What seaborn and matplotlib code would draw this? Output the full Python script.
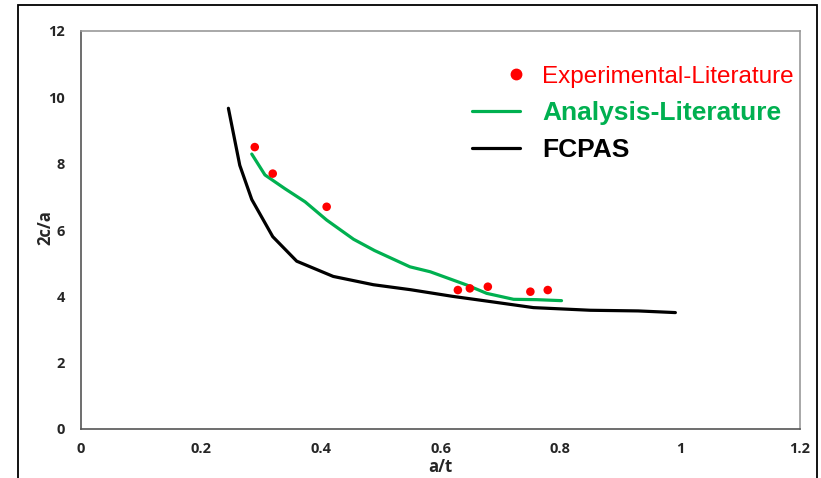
import numpy as np
import pandas as pd
import matplotlib
matplotlib.use("Agg")
import matplotlib.pyplot as plt
import seaborn as sns
from matplotlib.lines import Line2D
from matplotlib.patches import Rectangle
from matplotlib.legend_handler import HandlerLine2D

# FCPAS result
fcpas_x = [0.246, 0.265, 0.285, 0.32, 0.36, 0.421, 0.488, 0.55, 0.62, 0.68, 0.755, 0.85, 0.93, 0.992]
fcpas_y = [9.67, 7.95, 6.92, 5.8, 5.06, 4.6, 4.35, 4.2, 4.0, 3.85, 3.66, 3.58, 3.56, 3.51]

# analysis from literature
ana_x = [0.285, 0.307, 0.34, 0.374, 0.41, 0.455, 0.49, 0.549, 0.583, 0.644, 0.677, 0.722, 0.76, 0.802]
ana_y = [8.29, 7.66, 7.25, 6.85, 6.3, 5.72, 5.38, 4.89, 4.74, 4.34, 4.09, 3.91, 3.9, 3.87]

# experiments from literature
exp_x = [0.29, 0.32, 0.41, 0.629, 0.649, 0.679, 0.75, 0.779]
exp_y = [8.5, 7.7, 6.7, 4.19, 4.24, 4.29, 4.14, 4.19]

x_ticks = [0, 0.2, 0.4, 0.6, 0.8, 1, 1.2]
x_labels = ["0", "0.2", "0.4", "0.6", "0.8", "1", "1.2"]
y_ticks = [0, 2, 4, 6, 8, 10, 12]

sns.set_style("white")
plt.rcParams['font.family'] = ['Open Sans', 'DejaVu Sans']

fig = plt.figure(figsize=(8.21, 4.78), dpi=100)
ax = fig.add_axes([81/821, 49/478, 719/821, 398/478])

df_f = pd.DataFrame({'x': fcpas_x, 'y': fcpas_y})
df_a = pd.DataFrame({'x': ana_x, 'y': ana_y})
df_e = pd.DataFrame({'x': exp_x, 'y': exp_y})

sns.lineplot(data=df_f, x='x', y='y', color='black', lw=2.3, sort=False, ax=ax)
sns.lineplot(data=df_a, x='x', y='y', color='#00B050', lw=2.3, sort=False, ax=ax)
sns.scatterplot(data=df_e, x='x', y='y', color='#FF0000', s=38, edgecolor='none', ax=ax, zorder=5)

ax.set_xlim(0, 1.2)
ax.set_ylim(0, 12)
ax.set_xticks(x_ticks)
ax.set_xticklabels(x_labels)
ax.set_yticks(y_ticks)
ax.tick_params(axis='both', direction='out', length=4.5, width=1, color='#555555',
               labelsize=10.5)
ax.tick_params(axis='x', pad=5)
ax.tick_params(axis='y', pad=7)
for lab in ax.get_xticklabels() + ax.get_yticklabels():
    lab.set_fontweight('bold')
ax.set_xlabel('a/t', fontsize=12, fontweight='bold', labelpad=1)
ax.set_ylabel('2c/a', fontsize=12, fontweight='bold')
ax.yaxis.set_label_coords(-0.037, 0.507)

for side in ['left', 'bottom']:
    ax.spines[side].set_color('#555555')
    ax.spines[side].set_linewidth(1.2)
for side in ['top', 'right']:
    ax.spines[side].set_color('#999999')
    ax.spines[side].set_linewidth(1.2)

h_exp = Line2D([], [], ls='none', marker='o', color='#FF0000', markersize=7.5)
handles = [
    h_exp,
    Line2D([], [], color='#00B050', lw=2.3),
    Line2D([], [], color='black', lw=2.3),
]
labels = ['Experimental-Literature', 'Analysis-Literature', 'FCPAS']
leg = ax.legend(handles, labels, loc='upper left', frameon=False,
                bbox_to_anchor=(472/821, 1 - 65/478), bbox_transform=fig.transFigure,
                fontsize=19, handlelength=1.8, handletextpad=0.85, labelspacing=0.48,
                borderpad=0, borderaxespad=0,
                handler_map={h_exp: HandlerLine2D(numpoints=1, xpad=1.5)})
colors = ['#FF0000', '#00B050', 'black']
weights = ['normal', 'bold', 'bold']
sizes = [17.5, 19, 19]
for t, c, w, fs in zip(leg.get_texts(), colors, weights, sizes):
    t.set_color(c)
    t.set_fontweight(w)
    t.set_fontsize(fs)
    t.set_family(['Liberation Sans', 'DejaVu Sans'])

# outer chart frame
fig.patches.append(Rectangle((18/821, -0.05), (817-18)/821, 1.05 - 5/478,
                             transform=fig.transFigure, fill=False,
                             edgecolor='black', lw=1.3))

fig.savefig('out.png', dpi=100)
